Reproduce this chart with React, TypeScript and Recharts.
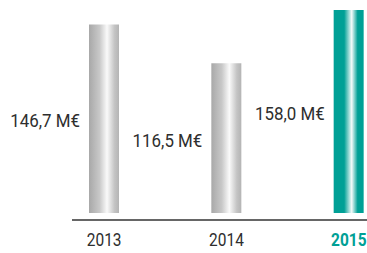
import { Bar, BarChart, Cell, LabelList, XAxis, YAxis } from "recharts";

const YEARS = ["2013", "2014", "2015"];
const VALUES = [146.7, 116.5, 158.0];
const VALUE_LABELS = ["146,7 M€", "116,5 M€", "158,0 M€"];
const HIGHLIGHT = "2015";

const TEAL = "#00a096";
const TEXT = "#2e2e2e";
const FONT = "Roboto, 'Liberation Sans', sans-serif";

const data = YEARS.map((year, i) => ({ year, value: VALUES[i], label: VALUE_LABELS[i] }));

// the source uses a condensed face, so squeeze Roboto horizontally
function YearTick({ x = 0, y = 0, payload }: { x?: number; y?: number; payload?: { value: string } }) {
  const isHi = payload?.value === HIGHLIGHT;
  return (
    <text
      transform={`translate(${x},${y}) scale(0.86,1)`}
      dy="0.71em"
      textAnchor="middle"
      fontFamily={FONT}
      fontSize={18}
      fontWeight={isHi ? 700 : 400}
      fill={isHi ? TEAL : TEXT}
    >
      {payload?.value}
    </text>
  );
}

function ValueLabel(props: any) {
  const { x = 0, y = 0, height = 0, value } = props;
  const tx = Number(x) - 9;
  const ty = Number(y) + Number(height) / 2 + 2;
  return (
    <text
      transform={`translate(${tx},${ty}) scale(0.94,1)`}
      dy="0.355em"
      textAnchor="end"
      fontFamily={FONT}
      fontSize={18}
      fill={TEXT}
    >
      {value}
    </text>
  );
}

export default function App() {
  return (
    <div style={{ position: "fixed", left: 0, top: 0, background: "#fff" }}>
      <BarChart width={367} height={253} data={data} margin={{ top: 10, right: 0, left: 72, bottom: 0 }}>
        <defs>
          <linearGradient id="grayBar" x1="0" y1="0" x2="1" y2="0">
            <stop offset="0%" stopColor="#a8a8a8" />
            <stop offset="35%" stopColor="#c8c8c8" />
            <stop offset="60%" stopColor="#fafafa" />
            <stop offset="85%" stopColor="#c4c4c4" />
            <stop offset="100%" stopColor="#b4b4b4" />
          </linearGradient>
          <linearGradient id="tealBar" x1="0" y1="0" x2="1" y2="0">
            <stop offset="0%" stopColor={TEAL} />
            <stop offset="35%" stopColor={TEAL} />
            <stop offset="60%" stopColor="#f4fbfa" />
            <stop offset="80%" stopColor={TEAL} />
            <stop offset="100%" stopColor={TEAL} />
          </linearGradient>
        </defs>
        <XAxis
          dataKey="year"
          height={33}
          tickLine={false}
          tickSize={0}
          tickMargin={13}
          axisLine={{ stroke: "#333", strokeWidth: 1.4 }}
          padding={{ left: -29, right: -43 }}
          tick={<YearTick />}
        />
        <YAxis hide domain={[-5.45, 158]} />
        <Bar dataKey="value" barSize={30} isAnimationActive={false}>
          {data.map((d) => (
            <Cell key={d.year} fill={d.year === HIGHLIGHT ? "url(#tealBar)" : "url(#grayBar)"} />
          ))}
          <LabelList dataKey="label" content={<ValueLabel />} />
        </Bar>
      </BarChart>
    </div>
  );
}
